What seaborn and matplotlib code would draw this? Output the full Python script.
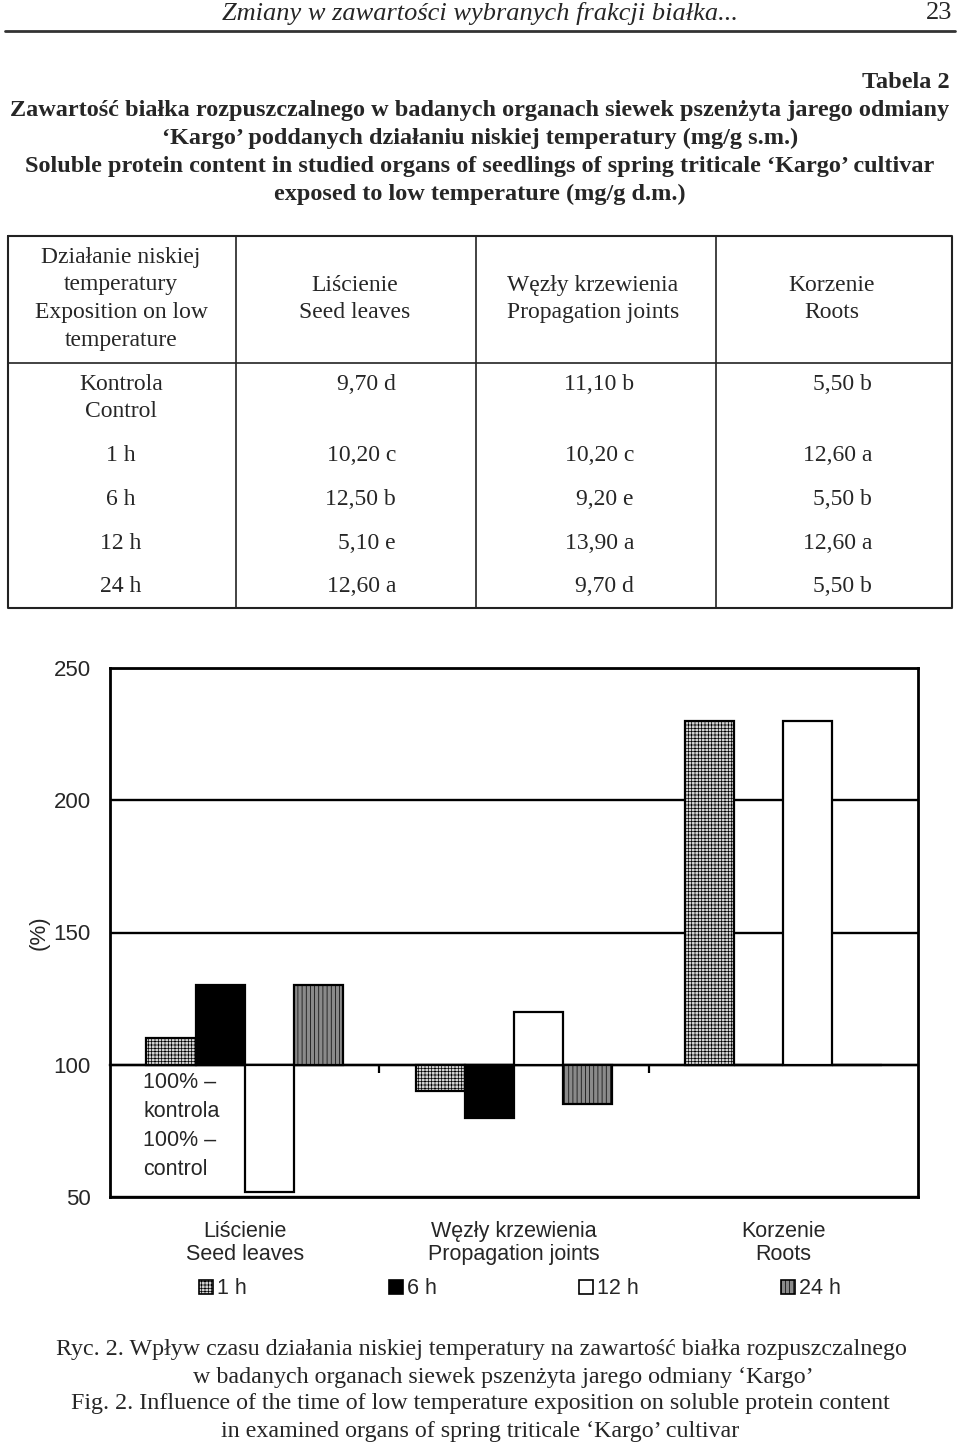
import numpy as np
import pandas as pd
import matplotlib
matplotlib.use("Agg")
import matplotlib.pyplot as plt
from matplotlib.patches import Patch
import seaborn as sns

# dane wykresu - % kontroli
organy = ["Liścienie\nSeed leaves", "Węzły krzewienia\nPropagation joints", "Korzenie\nRoots"]
czasy = ["1 h", "6 h", "12 h", "24 h"]
proc_1h = [110, 90, 230]
proc_6h = [130, 80, 100]
proc_12h = [52, 120, 230]
proc_24h = [130, 85, 100]
y_ticks = [50, 100, 150, 200, 250]

# tabela 2
tab_kol1_nagl = ["Działanie niskiej", "temperatury", "Exposition on low", "temperature"]
tab_nagl = [["Liścienie", "Seed leaves"], ["Węzły krzewienia", "Propagation joints"], ["Korzenie", "Roots"]]
tab_wiersze = ["Kontrola\nControl", "1 h", "6 h", "12 h", "24 h"]
tab_lisc = ["9,70 d", "10,20 c", "12,50 b", "5,10 e", "12,60 a"]
tab_wezly = ["11,10 b", "10,20 c", "9,20 e", "13,90 a", "9,70 d"]
tab_korz = ["5,50 b", "12,60 a", "5,50 b", "12,60 a", "5,50 b"]

naglowek = "Zmiany w zawartości wybranych frakcji białka..."
nr_strony = "23"
tytul = ["Zawartość białka rozpuszczalnego w badanych organach siewek pszenżyta jarego odmiany",
         "‘Kargo’ poddanych działaniu niskiej temperatury (mg/g s.m.)",
         "Soluble protein content in studied organs of seedlings of spring triticale ‘Kargo’ cultivar",
         "exposed to low temperature (mg/g d.m.)"]
podpis = ["Ryc. 2. Wpływ czasu działania niskiej temperatury na zawartość białka rozpuszczalnego",
          "w badanych organach siewek pszenżyta jarego odmiany ‘Kargo’",
          "Fig. 2. Influence of the time of low temperature exposition on soluble protein content",
          "in examined organs of spring triticale ‘Kargo’ cultivar"]

sns.set_style("white")
plt.rcParams['font.family'] = ['Liberation Sans', 'DejaVu Sans']
plt.rcParams['hatch.linewidth'] = 0.5
SERIF = ['Liberation Serif', 'DejaVu Serif']

fig = plt.figure(figsize=(9.6, 14.5), dpi=100)

# strona - wspolrzedne w pikselach
page = fig.add_axes([0, 0, 1, 1])
page.set_xlim(0, 960)
page.set_ylim(1450, 0)
page.axis('off')

page.text(480, 13, naglowek, family=SERIF, style='italic', fontsize=19, ha='center', va='center')
page.text(952, 13, nr_strony, family=SERIF, fontsize=19, ha='right', va='center')
page.plot([5, 955], [31, 31], color='#333333', lw=2)

page.text(950, 82, "Tabela 2", family=SERIF, weight='bold', fontsize=17.5, ha='right', va='center')
for i, linia in enumerate(tytul):
    page.text(480, 110 + 28 * i, linia, family=SERIF, weight='bold', fontsize=17.5, ha='center', va='center')

# ramka tabeli
page.plot([8, 952, 952, 8, 8], [236, 236, 608, 608, 236], color='#222222', lw=1.5)
for xv in [236, 476, 716]:
    page.plot([xv, xv], [236, 608], color='#222222', lw=1.2)
page.plot([8, 952], [363, 363], color='#222222', lw=1.2)

TS = 17
for i, t in enumerate(tab_kol1_nagl):
    page.text(121, 257 + 27.7 * i, t, family=SERIF, fontsize=TS, ha='center', va='center')
for cx, linie in zip([355, 593, 832], tab_nagl):
    for j, t in enumerate(linie):
        page.text(cx, 285 + 27 * j, t, family=SERIF, fontsize=TS, ha='center', va='center')

wiersz_y = [384, 455, 499, 543, 586]
for ry, lab, a, b, c in zip(wiersz_y, tab_wiersze, tab_lisc, tab_wezly, tab_korz):
    for j, part in enumerate(lab.split("\n")):
        page.text(121, ry + 27 * j, part, family=SERIF, fontsize=TS, ha='center', va='center')
    for rx, val in zip([396, 634, 872], [a, b, c]):
        page.text(rx, ry, val, family=SERIF, fontsize=TS, ha='right', va='center')

for i, (linia, cx) in enumerate(zip(podpis, [481, 503, 480, 480])):
    page.text(cx, 1350 + 27 * i, linia, family=SERIF, fontsize=17.3, ha='center', va='center')

# wykres
df = pd.DataFrame({
    "organ": organy * 4,
    "czas": np.repeat(czasy, len(organy)),
    "proc": proc_1h + proc_6h + proc_12h + proc_24h,
})
df["wys"] = df["proc"] - 100

kolory = {"1 h": "#d4d4d4", "6 h": "black", "12 h": "white", "24 h": "#8a8a8a"}
wzory = {"1 h": "+++++", "6 h": "", "12 h": "", "24 h": "||||"}

ax = fig.add_axes([110 / 960, 1 - 1197 / 1450, 808 / 960, 529 / 1450])
sns.barplot(data=df, x="organ", y="wys", hue="czas", order=organy, hue_order=czasy,
            palette=kolory, saturation=1, width=0.73, bottom=100, errorbar=None,
            edgecolor="black", linewidth=1.6, legend=False, ax=ax)
for cz, cont in zip(czasy, ax.containers):
    for b in cont:
        b.set_hatch(wzory[cz])

ax.set_ylim(50, 250)
ax.set_yticks(y_ticks)
ax.set_axisbelow(True)
ax.yaxis.grid(True, color='black', lw=1.7)
ax.xaxis.grid(False)
for s in ax.spines.values():
    s.set_visible(True)
    s.set_color('black')
    s.set_linewidth(2)
ax.set_xlabel("")
ax.set_ylabel("(%)", fontsize=16, labelpad=3)
ax.tick_params(axis='y', length=0, pad=14, labelsize=16)
ax.tick_params(axis='x', length=0, pad=17, labelsize=15.5)
plt.setp(ax.get_xticklabels(), linespacing=1.15)

# znaczniki granic kategorii na linii 100%
sec = ax.secondary_xaxis(0.25)
sec.set_xticks([0.5, 1.5])
sec.set_xticklabels([])
sec.tick_params(length=6, width=1.6, direction='out', color='black')
sec.spines['bottom'].set_linewidth(1.7)

ax.text(0.041, 0.237, "100% –\nkontrola\n100% –\ncontrol", transform=ax.transAxes,
        fontsize=15.5, ha='left', va='top', linespacing=1.5)

uchwyty = [Patch(facecolor=kolory[c], edgecolor='black', hatch=wzory[c], lw=1.2) for c in czasy]
fig.legend(handles=uchwyty, labels=czasy, loc='center', bbox_to_anchor=(520 / 960, 1 - 1289 / 1450),
           ncol=4, frameon=False, fontsize=15.5, handlelength=0.65, handleheight=0.65,
           handletextpad=0.2, columnspacing=6.6)

fig.savefig("out.png", dpi=100)
